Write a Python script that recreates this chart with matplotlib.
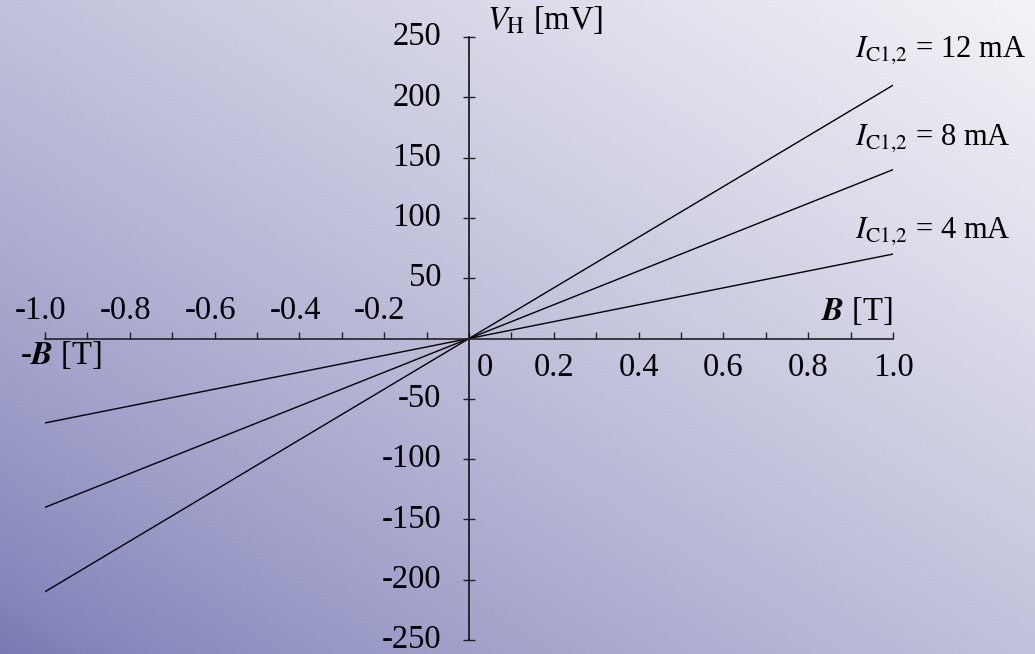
import numpy as np
import matplotlib
matplotlib.use('Agg')
import matplotlib.pyplot as plt

# Data
field_T = [-1.0, 0.0, 1.0]
hall_12mA = [-210, 0, 210]
hall_8mA = [-140, 0, 140]
hall_4mA = [-70, 0, 70]
currents = ['12', '8', '4']
label_y = [239, 166, 89]
pos_ticks = [0.2, 0.4, 0.6, 0.8, 1.0]
neg_ticks = [-1.0, -0.8, -0.6, -0.4, -0.2]
y_ticks = [250, 200, 150, 100, 50, -50, -100, -150, -200, -250]

plt.rcParams['font.family'] = ['Liberation Serif', 'DejaVu Serif']
plt.rcParams['mathtext.fontset'] = 'stix'
fs = 23.5

fig = plt.figure(figsize=(10.35, 6.54), dpi=100)

# gradient background, purple bottom-left to near white top-right
bg = fig.add_axes([0, 0, 1, 1], zorder=-10)
gx, gy = np.meshgrid(np.linspace(0, 1, 300), np.linspace(0, 1, 200))
t = ((gx + gy) / 2) ** 0.75
c0 = np.array([120, 120, 180]) / 255
c1 = np.array([243, 243, 247]) / 255
img = c0 + (c1 - c0) * t[..., None]
bg.imshow(img, origin='lower', aspect='auto', extent=[0, 1, 0, 1])
bg.axis('off')

ax = fig.add_axes([45 / 1035, 14 / 654, 848 / 1035, 603 / 654])
ax.set_facecolor('none')
ax.set_xlim(-1, 1)
ax.set_ylim(-250, 250)

ax.plot(field_T, hall_12mA, color='black', lw=1.0)
ax.plot(field_T, hall_8mA, color='black', lw=1.0)
ax.plot(field_T, hall_4mA, color='black', lw=1.0)

for s in ['top', 'right']:
    ax.spines[s].set_visible(False)
ax.spines['left'].set_position(('data', 0))
ax.spines['bottom'].set_position(('data', 0))
ax.spines['left'].set_color('#111111')
ax.spines['bottom'].set_color('#222222')
ax.spines['left'].set_linewidth(1.2)
ax.spines['bottom'].set_linewidth(1.2)

ax.set_xticks(np.round(np.arange(-1.0, 1.01, 0.1), 1))
ax.set_yticks(y_ticks)
ax.tick_params(axis='x', direction='in', length=5, width=1, color='#222222', labelbottom=False)
ax.tick_params(axis='y', direction='inout', length=8, width=1, color='#222222', labelleft=False)

# tick labels
for v in pos_ticks:
    ax.text(v, -24, f'{v:.1f}', ha='center', va='center', fontsize=fs)
ax.text(0.038, -24, '0', ha='center', va='center', fontsize=fs)
for v in neg_ticks:
    ax.text(v - 0.01, 23, f'{v:.1f}', ha='center', va='center', fontsize=fs)
for v in y_ticks:
    ax.text(-0.066, v, f'{v}', ha='right', va='center', fontsize=fs)

# axis titles
ax.text(0.042, 264, r'$V_{\mathrm{H}}$ [mV]', ha='left', va='center', fontsize=fs)
ax.text(1.0, 23, r'$\mathbfit{B}$ [T]', ha='right', va='center', fontsize=fs)
ax.text(-1.059, -14, r'-$\mathbfit{B}$ [T]', ha='left', va='center', fontsize=fs)

# curve labels
for cur, yy in zip(currents, label_y):
    ax.text(0.91, yy, r'$I_{\mathrm{C1{,}2}}$' + f' = {cur} mA', ha='left', va='center', fontsize=22)

fig.savefig('out.png', dpi=100)
